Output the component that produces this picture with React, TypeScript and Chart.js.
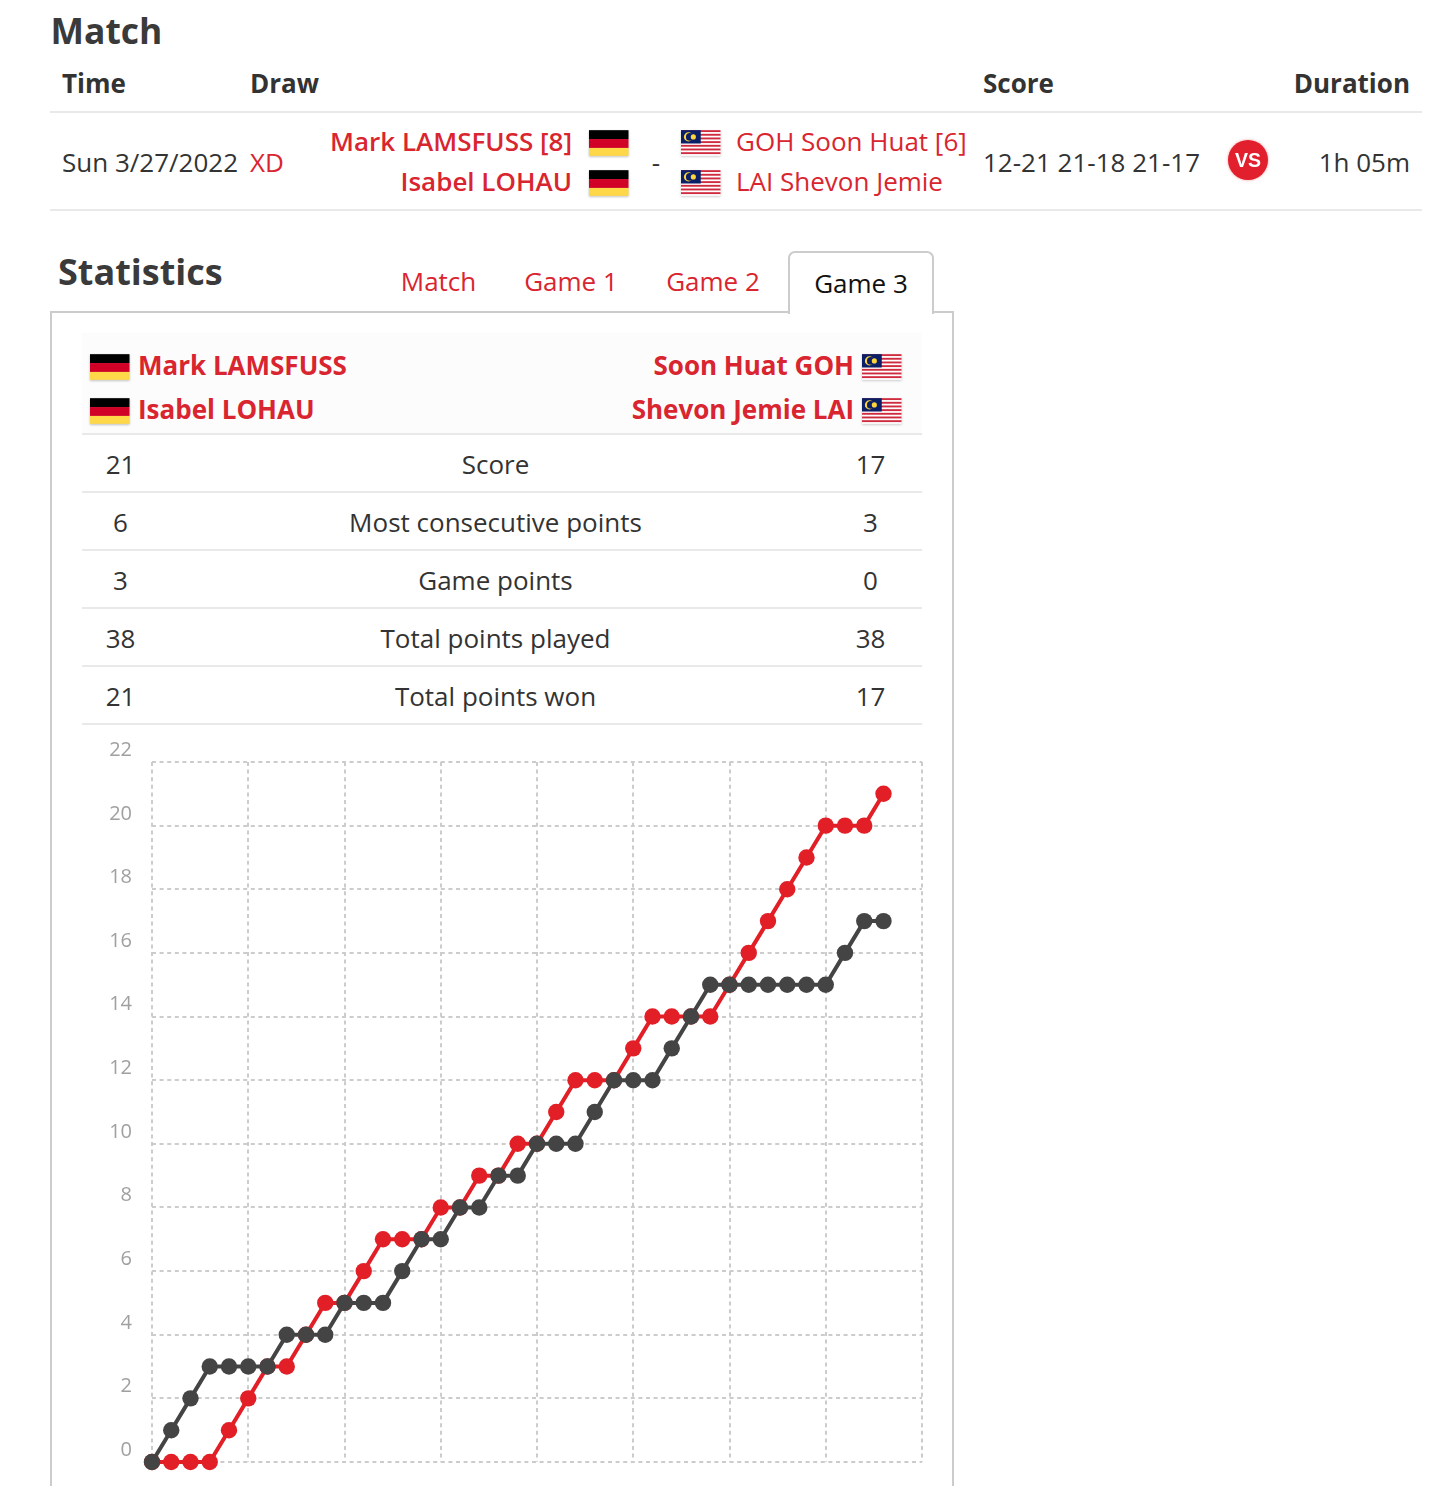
import React, { useEffect, useRef } from "react";
import { Chart, registerables } from "chart.js";

Chart.register(...registerables);

const pointsGermany = [0,0,0,0,1,2,3,3,4,5,5,6,7,7,7,8,8,9,9,10,10,11,12,12,12,13,14,14,14,14,15,16,17,18,19,20,20,20,21];
const pointsMalaysia = [0,1,2,3,3,3,3,4,4,4,5,5,5,6,7,7,8,8,9,9,10,10,10,11,12,12,12,13,14,15,15,15,15,15,15,15,16,17,17];
const statLabels = ["Score","Most consecutive points","Game points","Total points played","Total points won"];
const statsLeft = ["21","6","3","38","21"];
const statsRight = ["17","3","0","38","17"];

const RED = "#e21f26";
const LINK = "#d9252f";
const DARK = "#444444";
const FONT = "'Open Sans', sans-serif";

function T({ x, y, right, center, size = 26, weight = 400, color = "#333", children }: any) {
  const nudge = size === 26 ? -1 : 0;
  const style: any = {
    position: "absolute", top: y - size + nudge, height: size * 2, lineHeight: size * 2 + "px",
    fontSize: size, fontWeight: weight, color, whiteSpace: "nowrap", fontFamily: FONT,
  };
  if (x !== undefined) style.left = x;
  if (right !== undefined) style.right = 1440 - right;
  if (center !== undefined) { style.left = center - 300; style.width = 600; style.textAlign = "center"; }
  return <div style={style}>{children}</div>;
}

function Rect({ x, y, w, h, color, extra }: any) {
  return <div style={{ position: "absolute", left: x, top: y, width: w, height: h, background: color, ...extra }} />;
}

function DE({ x, y }: any) {
  return (
    <svg style={{ position: "absolute", left: x, top: y, filter: "drop-shadow(0 1.5px 1px rgba(0,0,0,0.25))" }} width={39.5} height={26} viewBox="0 0 40 26">
      <rect width="40" height="9" y="0" fill="#000" />
      <rect width="40" height="9" y="9" fill="#d00027" />
      <rect width="40" height="8" y="18" fill="#ffd84a" />
    </svg>
  );
}

function MY({ x, y }: any) {
  const stripes = [0, 1, 2, 3, 4, 5, 6];
  return (
    <svg style={{ position: "absolute", left: x, top: y, filter: "drop-shadow(0 1.5px 1px rgba(0,0,0,0.2))" }} width={39.5} height={26} viewBox="0 0 40 26">
      <rect width="40" height="26" fill="#fff" />
      {stripes.map((i) => <rect key={i} y={i * 3.72} width="40" height="1.9" fill="#cf2a3e" />)}
      <rect width="20" height="13.5" fill="#0b1f66" />
      <circle cx="7.5" cy="6.8" r="4.6" fill="#ffd43a" />
      <circle cx="8.9" cy="6.8" r="3.9" fill="#0b1f66" />
      <circle cx="12.5" cy="6.8" r="2.6" fill="#ffd43a" />
    </svg>
  );
}

function ChartView() {
  const ref = useRef<HTMLCanvasElement>(null);
  useEffect(() => {
    const labelShift = (v: any) => [String(v), ""];
    const chart = new Chart(ref.current!, {
      type: "line",
      data: {
        datasets: [
          {
            label: "Malaysia",
            data: pointsMalaysia.map((y, x) => ({ x, y })),
            borderColor: DARK, backgroundColor: DARK, pointBackgroundColor: DARK, pointBorderColor: DARK,
            borderWidth: 4, pointRadius: 8.2, pointBorderWidth: 0, tension: 0, clip: false, order: 1,
          },
          {
            label: "Germany",
            data: pointsGermany.map((y, x) => ({ x, y })),
            borderColor: RED, backgroundColor: RED, pointBackgroundColor: RED, pointBorderColor: RED,
            borderWidth: 4, pointRadius: 8.2, pointBorderWidth: 0, tension: 0, clip: false, order: 2,
          },
        ],
      },
      options: {
        responsive: false,
        animation: false,
        devicePixelRatio: 1,
        layout: { padding: { top: 27, right: 10, bottom: 20, left: 0 } },
        plugins: { legend: { display: false }, tooltip: { enabled: false } },
        scales: {
          x: {
            type: "linear", min: 0, max: 40,
            ticks: { stepSize: 5, display: false },
            grid: { color: "#cccccc", lineWidth: 2, drawTicks: false },
            border: { display: false, dash: [4, 3.6] },
            afterFit: (s: any) => { s.height = 0; s.paddingLeft = 0; s.paddingRight = 0; },
          },
          y: {
            type: "linear", min: 0, max: 22,
            ticks: {
              stepSize: 2, color: "#a0a0a0", padding: 20,
              font: { family: "'Open Sans'", size: 20, lineHeight: "23.6px" },
              callback: labelShift,
            },
            grid: { color: "#cccccc", lineWidth: 2, drawTicks: false },
            border: { display: false, dash: [4, 3.6] },
            afterFit: (s: any) => { s.width = 70; s.paddingTop = 0; s.paddingBottom = 0; },
          },
        },
      },
    } as any);
    return () => chart.destroy();
  }, []);
  return <canvas ref={ref} width={850} height={747} style={{ position: "absolute", left: 82, top: 735, width: 850, height: 747 }} />;
}

export default function App() {
  const rowYs = [465, 523, 581, 639, 697];
  const lineYs = [433, 491, 549, 607, 665, 723];
  return (
    <div style={{ position: "absolute", left: 0, top: 0, width: 1440, height: 1486, overflow: "hidden", background: "#fff", fontFamily: FONT }}>
      <T x={50.5} y={30} size={35.5} weight={700} color="#3a3a3a">Match</T>
      <T x={62} y={84} weight={700} color="#333">Time</T>
      <T x={250} y={84} weight={700} color="#333">Draw</T>
      <T x={983} y={84} weight={700} color="#333">Score</T>
      <T right={1410} y={84} weight={700} color="#333">Duration</T>
      <Rect x={50} y={111} w={1372} h={2} color="#e9e9e9" />
      <Rect x={50} y={209} w={1372} h={2} color="#e9e9e9" />

      <T x={62} y={163}>Sun 3/27/2022</T>
      <T x={250} y={163} color={LINK}>XD</T>
      <T right={572} y={142} weight={600} color={LINK}>Mark LAMSFUSS [8]</T>
      <T right={572} y={182} weight={600} color={LINK}>Isabel LOHAU</T>
      <DE x={589} y={130} />
      <DE x={589} y={170} />
      <T center={656} y={163}>-</T>
      <MY x={681} y={130} />
      <MY x={681} y={170} />
      <T x={736} y={142} color={LINK}>GOH Soon Huat [6]</T>
      <T x={736} y={182} color={LINK}>LAI Shevon Jemie</T>
      <T x={983} y={163}>12-21 21-18 21-17</T>
      <div style={{ position: "absolute", left: 1228, top: 140, width: 40, height: 40, borderRadius: 20, background: "#e21f2c", color: "#fff", fontFamily: "'Liberation Sans', sans-serif", fontWeight: 700, fontSize: 19.5, lineHeight: "40px", textAlign: "center", filter: "blur(0.5px)", boxShadow: "0 0 3px rgba(226,31,44,0.45)" }}>VS</div>
      <T right={1410} y={163}>1h 05m</T>

      <T x={58} y={271.5} size={36} weight={700} color="#3a3a3a">Statistics</T>
      <T center={438.5} y={282} color={LINK}>Match</T>
      <T center={571} y={282} color={LINK}>Game 1</T>
      <T center={713} y={282} color={LINK}>Game 2</T>

      <Rect x={50} y={311} w={904} h={1200} color="#fff" extra={{ border: "2px solid #cccccc", boxSizing: "border-box" }} />
      <div style={{ position: "absolute", left: 788, top: 251, width: 146, height: 63, boxSizing: "border-box", background: "#fff", border: "2px solid #cccccc", borderBottom: "none", borderRadius: "7px 7px 0 0" }} />
      <T center={861} y={284} color="#111">Game 3</T>

      <Rect x={82} y={333} w={840} h={100} color="#fcfcfc" />
      <DE x={90} y={354} />
      <DE x={90} y={398} />
      <T x={138} y={366} weight={700} color={LINK}>Mark LAMSFUSS</T>
      <T x={138} y={410} weight={700} color={LINK}>Isabel LOHAU</T>
      <T right={854} y={366} weight={700} color={LINK}>Soon Huat GOH</T>
      <T right={854} y={410} weight={700} color={LINK}>Shevon Jemie LAI</T>
      <MY x={862} y={354} />
      <MY x={862} y={398} />

      {lineYs.map((y) => <Rect key={y} x={82} y={y} w={840} h={2} color="#e9e9e9" />)}
      {statLabels.map((label, i) => (
        <React.Fragment key={label}>
          <T center={120.5} y={rowYs[i]}>{statsLeft[i]}</T>
          <T center={495.5} y={rowYs[i]}>{label}</T>
          <T center={870.5} y={rowYs[i]}>{statsRight[i]}</T>
        </React.Fragment>
      ))}
      <ChartView />
    </div>
  );
}
